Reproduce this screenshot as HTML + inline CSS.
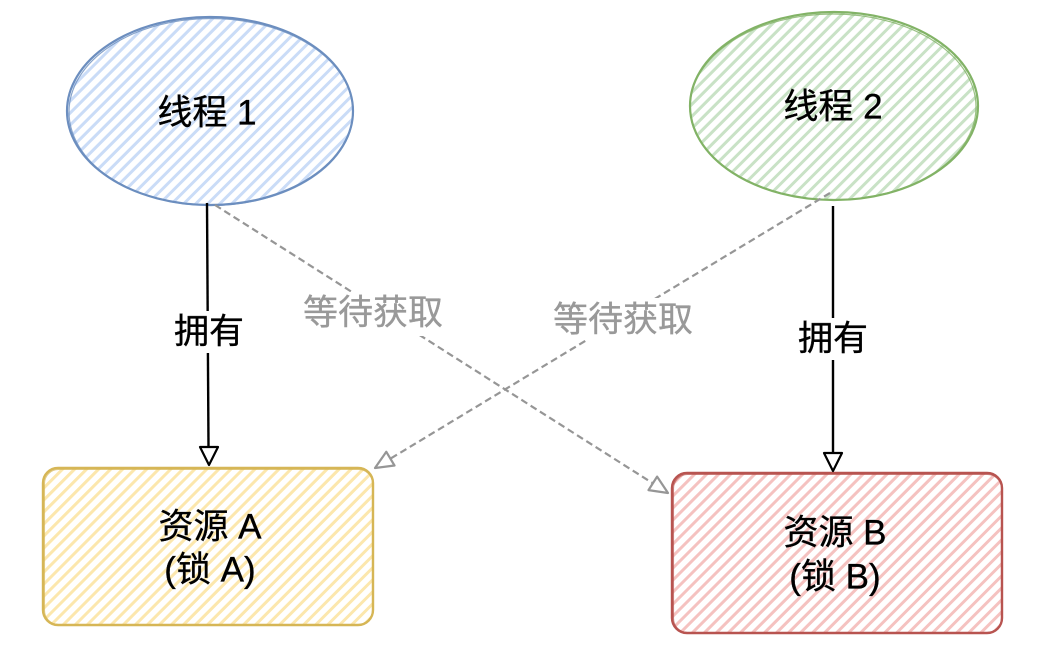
<!DOCTYPE html>
<html>
<head>
<meta charset="utf-8">
<style>
  html, body { margin: 0; padding: 0; background: #ffffff; }
  body { width: 1050px; height: 664px; overflow: hidden; }
  svg { display: block; }
  text { font-family: "Liberation Sans", "Noto Sans CJK SC", sans-serif; }
</style>
</head>
<body>
<svg width="1050" height="664" viewBox="0 0 1050 664" xmlns="http://www.w3.org/2000/svg">
  <defs>
    <pattern id="hBlue" width="8.5" height="8.5" patternUnits="userSpaceOnUse" patternTransform="rotate(45)">
      <rect width="8.5" height="8.5" fill="#ffffff"/>
      <line x1="2" y1="0" x2="2" y2="8.5" stroke="#cadcf7" stroke-width="3"/>
    </pattern>
    <pattern id="hGreen" width="8.5" height="8.5" patternUnits="userSpaceOnUse" patternTransform="rotate(45)">
      <rect width="8.5" height="8.5" fill="#ffffff"/>
      <line x1="2" y1="0" x2="2" y2="8.5" stroke="#c9e2c6" stroke-width="3"/>
    </pattern>
    <pattern id="hYellow" width="8.5" height="8.5" patternUnits="userSpaceOnUse" patternTransform="rotate(45)">
      <rect width="8.5" height="8.5" fill="#ffffff"/>
      <line x1="2" y1="0" x2="2" y2="8.5" stroke="#fce7ad" stroke-width="3"/>
    </pattern>
    <pattern id="hRed" width="8.5" height="8.5" patternUnits="userSpaceOnUse" patternTransform="rotate(45)">
      <rect width="8.5" height="8.5" fill="#ffffff"/>
      <line x1="2" y1="0" x2="2" y2="8.5" stroke="#f5c2c0" stroke-width="3"/>
    </pattern>
  </defs>

  <!-- Thread 1 ellipse -->
  <ellipse cx="210" cy="111" rx="143" ry="94" fill="url(#hBlue)" stroke="none"/>
  <ellipse cx="210" cy="111" rx="143" ry="94" fill="none" stroke="#6c8ebf" stroke-width="2.2"/>
  <ellipse cx="211" cy="112" rx="142" ry="93.5" fill="none" stroke="#6c8ebf" stroke-width="1.2" opacity="0.8"/>

  <!-- Thread 2 ellipse -->
  <ellipse cx="834" cy="106" rx="144" ry="94" fill="url(#hGreen)" stroke="none"/>
  <ellipse cx="834" cy="106" rx="144" ry="94" fill="none" stroke="#82b366" stroke-width="2.2"/>
  <ellipse cx="833" cy="107" rx="143" ry="93" fill="none" stroke="#82b366" stroke-width="1.2" opacity="0.8"/>

  <!-- Resource A -->
  <rect x="43" y="468" width="330" height="157" rx="15" ry="15" fill="url(#hYellow)" stroke="none"/>
  <rect x="43" y="468" width="330" height="157" rx="15" ry="15" fill="none" stroke="#d6b656" stroke-width="2.4"/>
  <rect x="44.5" y="469.5" width="328" height="155" rx="14" ry="14" fill="none" stroke="#d6b656" stroke-width="1.1" opacity="0.7"/>

  <!-- Resource B -->
  <rect x="672" y="473" width="330" height="160" rx="15" ry="15" fill="url(#hRed)" stroke="none"/>
  <rect x="672" y="473" width="330" height="160" rx="15" ry="15" fill="none" stroke="#b85450" stroke-width="2.4"/>
  <rect x="673.5" y="474.5" width="328" height="158" rx="14" ry="14" fill="none" stroke="#b85450" stroke-width="1.1" opacity="0.7"/>

  <!-- Dashed arrow 1: thread1 -> resource B -->
  <line x1="215" y1="205" x2="652.8" y2="483.3" stroke="#969696" stroke-width="2.2" stroke-dasharray="7 4"/>
  <polygon points="668,493 648.5,490.1 657.1,476.6" fill="#ffffff" stroke="#969696" stroke-width="2.2" stroke-linejoin="round"/>

  <!-- Dashed arrow 2: thread2 -> resource A -->
  <line x1="830" y1="193" x2="390.4" y2="458.7" stroke="#969696" stroke-width="2.2" stroke-dasharray="7 4"/>
  <polygon points="375,468 386.3,451.8 394.5,465.5" fill="#ffffff" stroke="#969696" stroke-width="2.2" stroke-linejoin="round"/>

  <!-- Solid arrow 1 -->
  <line x1="207" y1="203" x2="208.5" y2="447" stroke="#000000" stroke-width="2.4"/>
  <polygon points="209,465 200,447 218,447" fill="#ffffff" stroke="#000000" stroke-width="2.2" stroke-linejoin="round"/>

  <!-- Solid arrow 2 -->
  <line x1="833" y1="206" x2="833" y2="453" stroke="#000000" stroke-width="2.4"/>
  <polygon points="833,471 824,453 842,453" fill="#ffffff" stroke="#000000" stroke-width="2.2" stroke-linejoin="round"/>

  <!-- label backgrounds -->
  <rect x="302" y="292" width="143" height="44" fill="#ffffff"/>
  <rect x="552" y="298" width="143" height="42" fill="#ffffff"/>
  <rect x="174" y="311" width="71" height="42" fill="#ffffff"/>
  <rect x="799" y="318" width="68" height="42" fill="#ffffff"/>

  <!-- Text -->
  <g font-size="35" fill="#000000" stroke="#000000" stroke-width="0.35" text-anchor="middle">
    <text x="207" y="113" dominant-baseline="central">线程 1</text>
    <text x="833" y="107" dominant-baseline="central">线程 2</text>
    <text x="210" y="527" dominant-baseline="central">资源 A</text>
    <text x="210" y="570" dominant-baseline="central">(锁 A)</text>
    <text x="835" y="533" dominant-baseline="central">资源 B</text>
    <text x="835" y="577" dominant-baseline="central">(锁 B)</text>
    <text x="209" y="332" dominant-baseline="central">拥有</text>
    <text x="833" y="339" dominant-baseline="central">拥有</text>
  </g>
  <g font-size="35" fill="#999999" stroke="#999999" stroke-width="0.35" text-anchor="middle">
    <text x="373" y="313" dominant-baseline="central">等待获取</text>
    <text x="623" y="320" dominant-baseline="central">等待获取</text>
  </g>
</svg>
</body>
</html>
